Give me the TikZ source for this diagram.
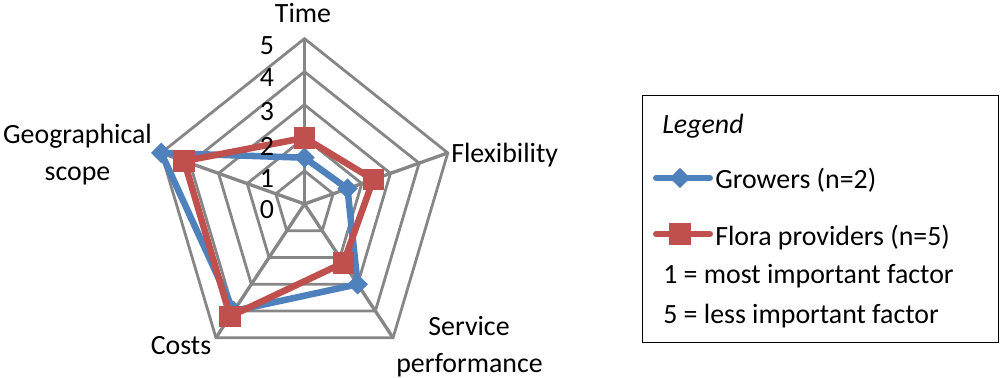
\documentclass[tikz,border=0pt]{standalone}
\usepackage{fontspec}
\setmainfont{Carlito}
\usetikzlibrary{shapes.geometric}
\definecolor{gridc}{RGB}{134,134,134}
\definecolor{bluec}{RGB}{79,129,189}
\definecolor{redc}{RGB}{192,80,77}
\begin{document}
\begin{tikzpicture}[x=0.75pt,y=-0.75pt,
  lbl/.style={font=\fontsize{20.9}{25}\selectfont, inner sep=0pt},
  gridline/.style={draw=gridc, line width=2.1pt, line join=miter},
  spoke/.style={draw=gridc, line width=2.5pt},
  bline/.style={draw=bluec, line width=4.9pt, line join=round, line cap=round},
  rline/.style={draw=redc, line width=4.9pt, line join=round, line cap=round},
  bmark/.style={diamond, fill=bluec, inner sep=0pt, minimum width=15.5pt, minimum height=15.5pt, aspect=1},
  rmark/.style={rectangle, fill=redc, inner sep=0pt, minimum size=16pt},
  legbox/.style={draw=black, line width=1.1pt, inner sep=0pt, anchor=north west,
    minimum width=267pt, minimum height=185pt},
]
\useasboundingbox (0,0) rectangle (1000,378);

\begin{scope}[shift={(304.5,204)}, x=22.6pt, y=24.8pt]
  \coordinate (ctr) at (0,0);
  \foreach \k in {1,...,5} {
    \draw[gridline] (90:\k) -- (18:\k) -- (-54:\k) -- (-126:\k) -- (162:\k) -- cycle;
  }
  \coordinate (axt) at (90:5);
  \coordinate (axf) at (18:5);
  \coordinate (axs) at (-54:5);
  \coordinate (axc) at (-126:5);
  \coordinate (axg) at (162:5);
  \foreach \n in {axt,axf,axs,axc,axg} \draw[spoke] (ctr) -- (\n);

  % Growers (blue)
  \coordinate (bt) at (90:1.4);
  \coordinate (bf) at (18:1.5);
  \coordinate (bs) at (-54:3);
  \coordinate (bc) at (-126:4);
  \coordinate (bg) at (162:5);
  \draw[bline] (bt) -- (bf) -- (bs) -- (bc) -- (bg) -- cycle;
  \foreach \n in {bt,bf,bs,bc,bg} \node[bmark] (m\n) at (\n) {};

  % Flora providers (red)
  \coordinate (rt) at (90:2);
  \coordinate (rf) at (18:2.4);
  \coordinate (rs) at (-54:2.2);
  \coordinate (rc) at (-126:4.2);
  \coordinate (rg) at (162:4.2);
  \draw[rline] (rt) -- (rf) -- (rs) -- (rc) -- (rg) -- cycle;
  \foreach \n in {rt,rf,rs,rc,rg} \node[rmark] (m\n) at (\n) {};
\end{scope}

% value labels
\node[lbl] (v5) at (267,46) {5};
\node[lbl] (v4) at (267,78) {4};
\node[lbl] (v3) at (267,112) {3};
\node[lbl] (v2) at (267,146) {2};
\node[lbl] (v1) at (267,179) {1};
\node[lbl] (v0) at (267,210) {0};

% axis labels
\node[lbl, anchor=base] (ltime) at (303,23) {Time};
\node[lbl, anchor=base west] (lflex) at (451,162) {Flexibility};
\node[lbl, anchor=base] (lgeo1) at (77.5,143) {Geographical};
\node[lbl, anchor=base] (lgeo2) at (77.5,180) {scope};
\node[lbl, anchor=base] (lcost) at (181,354) {Costs};
\node[lbl, anchor=base] (lserv1) at (469,335) {Service};
\node[lbl, anchor=base] (lserv2) at (469.5,372) {performance};

% legend
\node[legbox] (legend) at (642,95) {};
\node[lbl, anchor=base west] (legtitle) at (662,133) {\itshape Legend};
\coordinate (lb1) at (656,178);
\coordinate (lb2) at (710,178);
\draw[bline, line width=4.5pt] (lb1) -- (lb2);
\node[bmark] (lbm) at (680,178) {};
\node[lbl, anchor=base west] (lgrow) at (715,188) {Growers (n=2)};
\coordinate (lr1) at (656,234);
\coordinate (lr2) at (710,234);
\draw[rline, line width=4.5pt] (lr1) -- (lr2);
\node[rmark] (lrm) at (680,234) {};
\node[lbl, anchor=base west] (lflora) at (715,245) {Flora providers (n=5)};
\node[lbl, anchor=base west] (lmost) at (663,283) {1 = most important factor};
\node[lbl, anchor=base west] (lless) at (663,323) {5 = less important factor};
\end{tikzpicture}
\end{document}
